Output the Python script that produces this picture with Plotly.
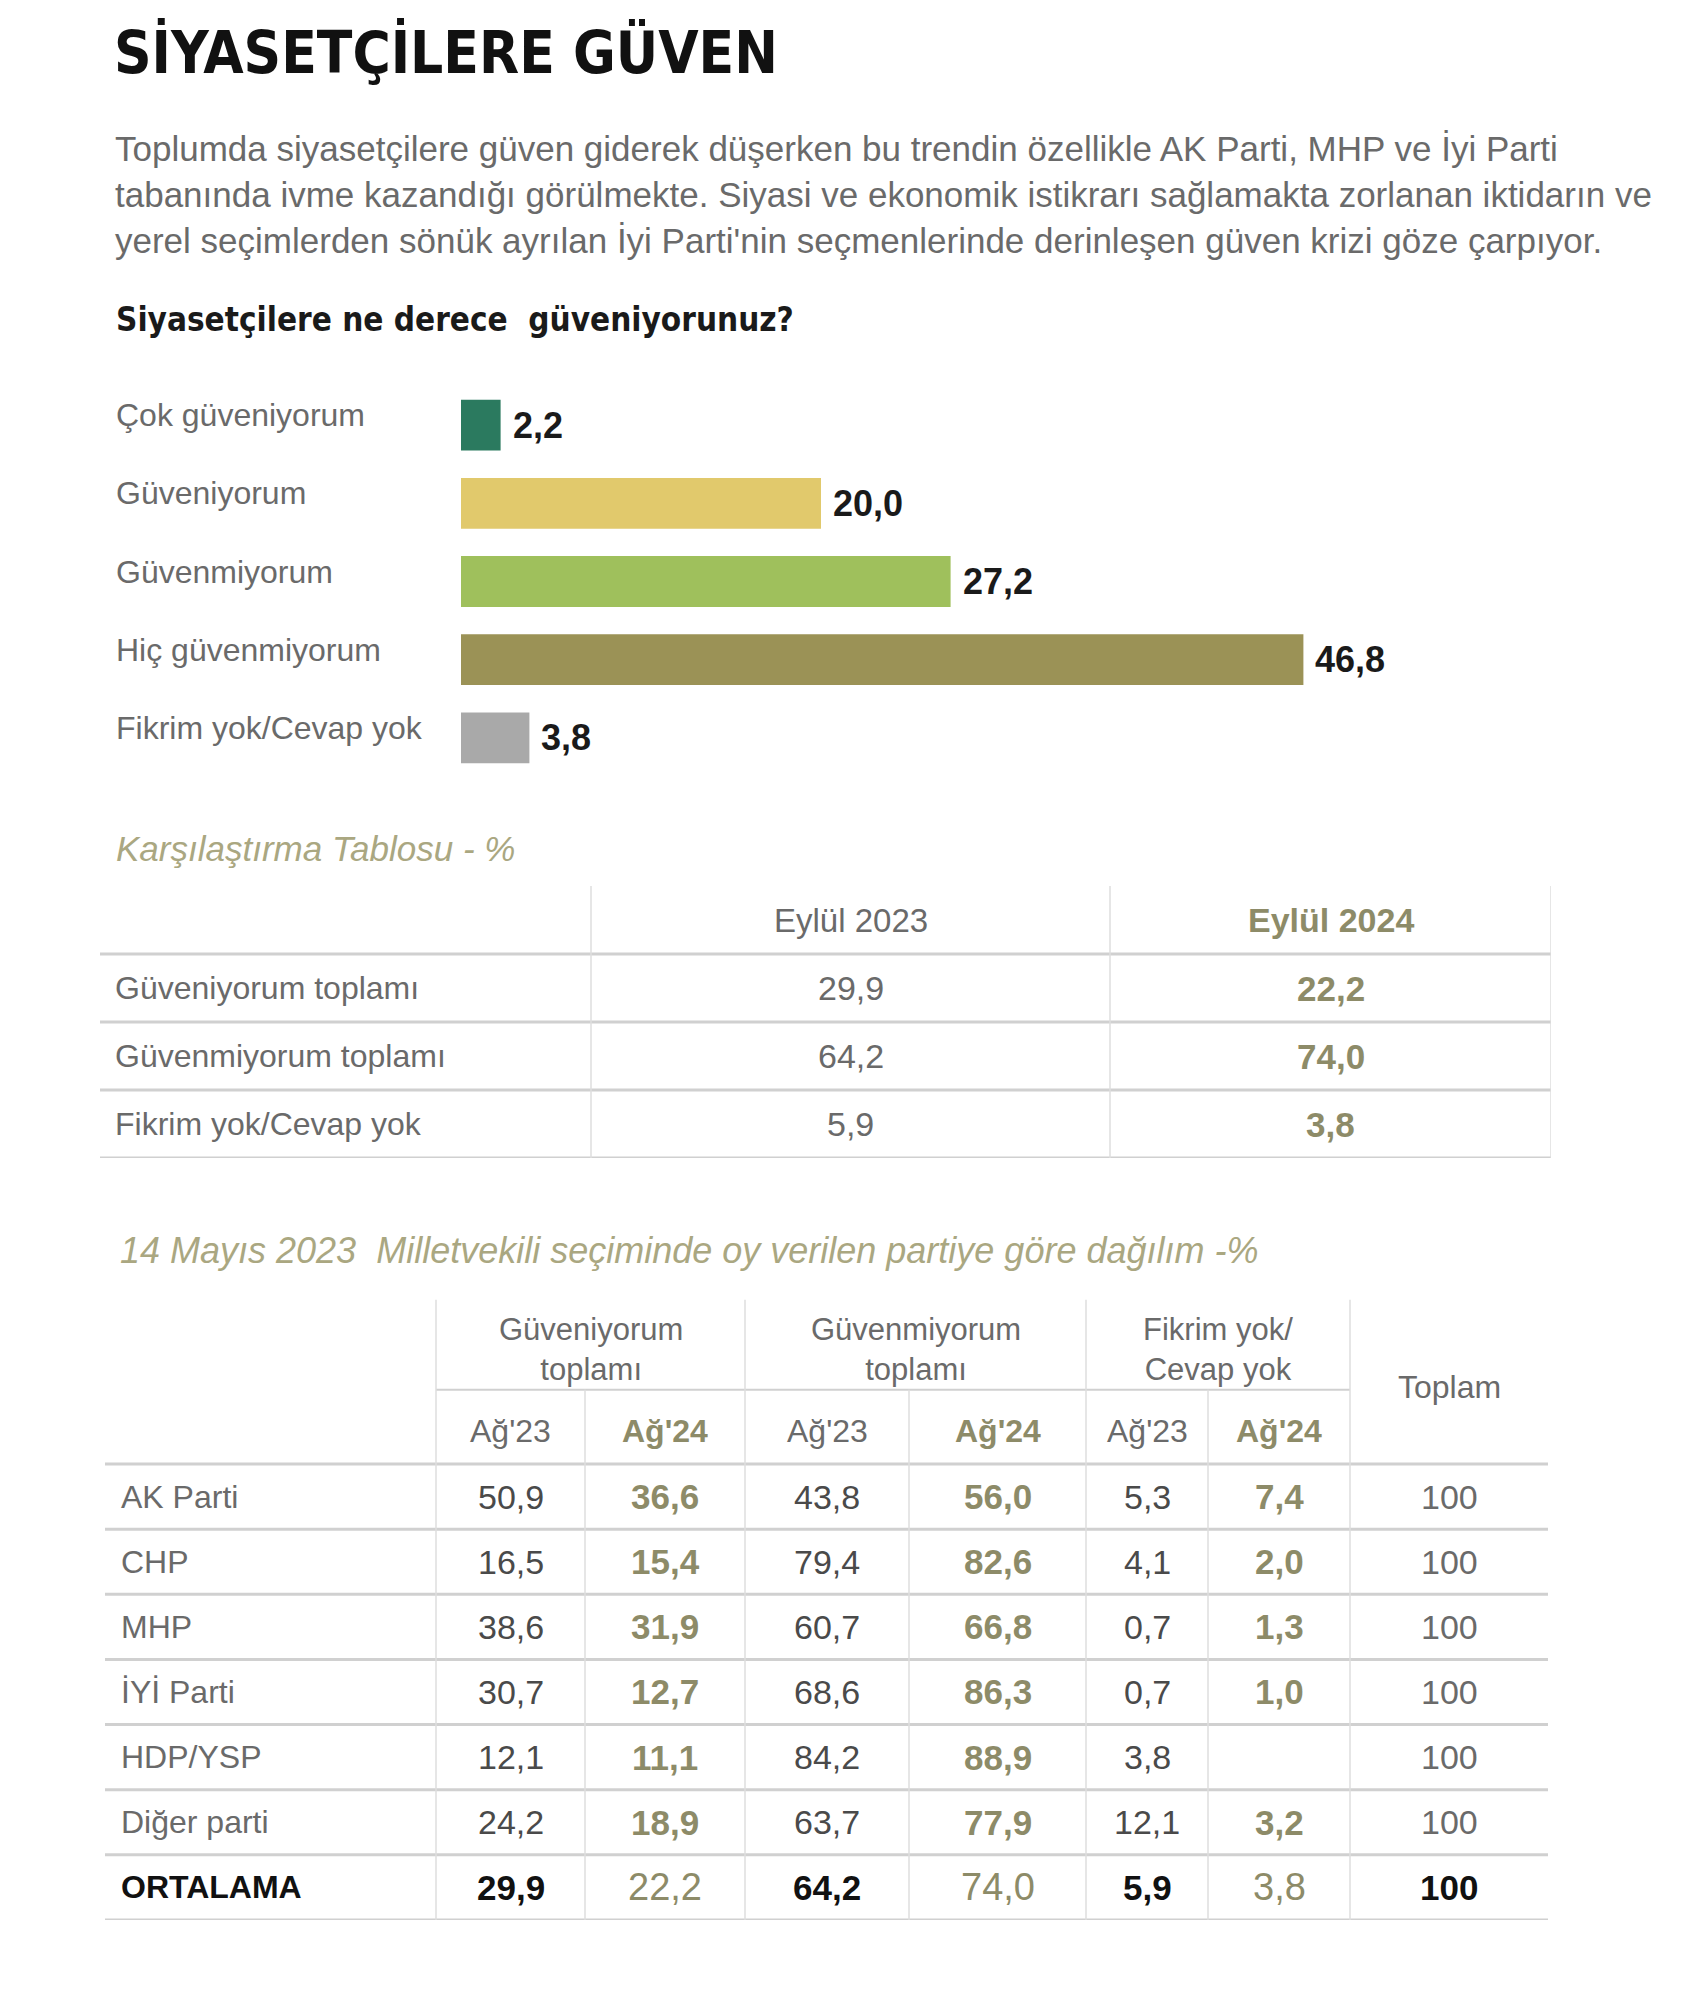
import plotly.graph_objects as go

# ---- data ----
bar_labels = ["Çok güveniyorum", "Güveniyorum", "Güvenmiyorum", "Hiç güvenmiyorum", "Fikrim yok/Cevap yok"]
bar_values = [2.2, 20.0, 27.2, 46.8, 3.8]
bar_colors = ["#2b7a5f", "#e1c96c", "#9fc05c", "#9b9256", "#a9a9a9"]

cmp_header = ["Eylül 2023", "Eylül 2024"]
cmp_rows = ["Güveniyorum toplamı", "Güvenmiyorum toplamı", "Fikrim yok/Cevap yok"]
cmp_2023 = [29.9, 64.2, 5.9]
cmp_2024 = [22.2, 74.0, 3.8]

groups = ["Güveniyorum<br>toplamı", "Güvenmiyorum<br>toplamı", "Fikrim yok/<br>Cevap yok"]
sub_cols = ["Ağ'23", "Ağ'24"]
parties = ["AK Parti", "CHP", "MHP", "İYİ Parti", "HDP/YSP", "Diğer parti", "ORTALAMA"]
guv_23 = [50.9, 16.5, 38.6, 30.7, 12.1, 24.2, 29.9]
guv_24 = [36.6, 15.4, 31.9, 12.7, 11.1, 18.9, 22.2]
gmy_23 = [43.8, 79.4, 60.7, 68.6, 84.2, 63.7, 64.2]
gmy_24 = [56.0, 82.6, 66.8, 86.3, 88.9, 77.9, 74.0]
fy_23 = [5.3, 4.1, 0.7, 0.7, 3.8, 12.1, 5.9]
fy_24 = [7.4, 2.0, 1.3, 1.0, None, 3.2, 3.8]
toplam = [100, 100, 100, 100, 100, 100, 100]

title = "SİYASETÇİLERE GÜVEN"
intro = [
    "Toplumda siyasetçilere güven giderek düşerken bu trendin özellikle AK Parti, MHP ve İyi Parti",
    "tabanında ivme kazandığı görülmekte. Siyasi ve ekonomik istikrarı sağlamakta zorlanan iktidarın ve",
    "yerel seçimlerden sönük ayrılan İyi Parti'nin seçmenlerinde derinleşen güven krizi göze çarpıyor.",
]
question = "Siyasetçilere ne derece  güveniyorunuz?"
cmp_title = "Karşılaştırma Tablosu - %"
party_title = "14 Mayıs 2023  Milletvekili seçiminde oy verilen partiye göre dağılım -%"

# ---- styling ----
W, H = 1700, 2003
OFF = 8  # page body margin
BASE = "Liberation Sans, Arial, sans-serif"
NARROW = "Liberation Sans Narrow, DejaVu Sans Condensed, Liberation Sans, sans-serif"
GREY = "#6a6a6a"
DARK = "#4a4a4a"
OLIVE = "#8d8b68"
HEAD = "#aaa781"
LINE = "#d0d0d0"


def xp(px):
    return (px - OFF) / W


def yp(py):
    return 1 - (py - OFF) / H


def fmt(v):
    if v is None:
        return ""
    if isinstance(v, int):
        return str(v)
    return f"{v:.1f}".replace(".", ",")


fig = go.Figure()
ann = []
shapes = []

# ---- header texts ----
ann.append(dict(text=f"<b>{title}</b>", x=xp(112), y=yp(52), xref="paper", yref="paper",
                xanchor="left", yanchor="middle", showarrow=False,
                font=dict(family=NARROW, size=58, color="#111111")))
for i, line in enumerate(intro):
    ann.append(dict(text=line, x=xp(113), y=yp(148 + 46 * i), xref="paper", yref="paper",
                    xanchor="left", yanchor="middle", showarrow=False,
                    font=dict(family=BASE, size=35, color=GREY)))
ann.append(dict(text=f"<b>{question}</b>", x=xp(114), y=yp(320), xref="paper", yref="paper",
                xanchor="left", yanchor="middle", showarrow=False,
                font=dict(family=NARROW, size=33, color="#1a1a1a")))

# ---- bar chart ----
fig.add_trace(go.Bar(
    x=bar_values, y=bar_labels, orientation="h",
    marker=dict(color=bar_colors, line=dict(width=0)),
    hoverinfo="x+y", showlegend=False, xaxis="x", yaxis="y",
))
for lab, v in zip(bar_labels, bar_values):
    ann.append(dict(text=lab, x=xp(114), y=lab, xref="paper", yref="y",
                    xanchor="left", yanchor="middle", yshift=10, showarrow=False,
                    font=dict(family=BASE, size=32, color=GREY)))
    ann.append(dict(text=f"<b>{fmt(v)}</b>", x=v, y=lab, xref="x", yref="y",
                    xanchor="left", yanchor="middle", xshift=10, showarrow=False,
                    font=dict(family=BASE, size=36, color="#1a1a1a")))

# ---- comparison table ----
ann.append(dict(text=f"<i>{cmp_title}</i>", x=xp(114), y=yp(848), xref="paper", yref="paper",
                xanchor="left", yanchor="middle", showarrow=False,
                font=dict(family=BASE, size=35, color=HEAD)))
c_w = [491, 519, 441]
c_edges = [sum(c_w[:i]) for i in range(len(c_w) + 1)]
c_mid = [(c_edges[i] + c_edges[i + 1]) / 2 for i in range(len(c_w))]
ann.append(dict(text=cmp_header[0], x=c_mid[1], y=0, xref="x2", yref="y2", showarrow=False,
                font=dict(family=BASE, size=33, color=GREY)))
ann.append(dict(text=f"<b>{cmp_header[1]}</b>", x=c_mid[2], y=0, xref="x2", yref="y2", showarrow=False,
                font=dict(family=BASE, size=34, color=OLIVE)))
for r, (lab, a, b) in enumerate(zip(cmp_rows, cmp_2023, cmp_2024), start=1):
    ann.append(dict(text=lab, x=13, y=r, xref="x2", yref="y2", xanchor="left", showarrow=False,
                    font=dict(family=BASE, size=32, color=GREY)))
    ann.append(dict(text=fmt(a), x=c_mid[1], y=r, xref="x2", yref="y2", showarrow=False,
                    font=dict(family=BASE, size=34, color=GREY)))
    ann.append(dict(text=f"<b>{fmt(b)}</b>", x=c_mid[2], y=r, xref="x2", yref="y2", showarrow=False,
                    font=dict(family=BASE, size=35, color=OLIVE)))
for k in range(len(cmp_rows) + 1):
    shapes.append(dict(type="line", xref="x2", yref="y2", x0=0, x1=c_edges[-1], y0=k + 0.5, y1=k + 0.5,
                       line=dict(color=LINE, width=3)))
for e in c_edges[1:]:
    shapes.append(dict(type="line", xref="x2", yref="y2", x0=e, x1=e, y0=-0.5, y1=len(cmp_rows) + 0.5,
                       line=dict(color="#dedede", width=1.5)))

# ---- party table ----
ann.append(dict(text=f"<i>{party_title}</i>", x=xp(118), y=yp(1250), xref="paper", yref="paper",
                xanchor="left", yanchor="middle", showarrow=False,
                font=dict(family=BASE, size=36, color=HEAD)))
p_w = [331, 149, 160, 164, 177, 122, 142, 198]
p_edges = [sum(p_w[:i]) for i in range(len(p_w) + 1)]
p_mid = [(p_edges[i] + p_edges[i + 1]) / 2 for i in range(len(p_w))]
n = len(parties)
group_y, sub_y, split_y, top_y = -2.25, -1.0, -1.64, -3.02

for g, gl in enumerate(groups):
    ann.append(dict(text=gl, x=(p_edges[1 + 2 * g] + p_edges[3 + 2 * g]) / 2, y=group_y,
                    xref="x3", yref="y3", showarrow=False,
                    font=dict(family=BASE, size=31, color=GREY)))
    ann.append(dict(text=sub_cols[0], x=p_mid[1 + 2 * g], y=sub_y, xref="x3", yref="y3", showarrow=False,
                    font=dict(family=BASE, size=32, color=GREY)))
    ann.append(dict(text=f"<b>{sub_cols[1]}</b>", x=p_mid[2 + 2 * g], y=sub_y, xref="x3", yref="y3",
                    showarrow=False, font=dict(family=BASE, size=32, color=OLIVE)))
ann.append(dict(text="Toplam", x=p_mid[7], y=-1.68, xref="x3", yref="y3", showarrow=False,
                font=dict(family=BASE, size=32, color=GREY)))

cols = [guv_23, guv_24, gmy_23, gmy_24, fy_23, fy_24, toplam]
for r, party in enumerate(parties):
    last = r == n - 1
    ann.append(dict(text=f"<b>{party}</b>" if last else party, x=14, y=r, xref="x3", yref="y3",
                    xanchor="left", showarrow=False,
                    font=dict(family=BASE, size=32, color="#111111" if last else GREY)))
    for c, col in enumerate(cols):
        olive = c in (1, 3, 5)
        txt = fmt(col[r])
        if last:
            if olive:
                font = dict(family=BASE, size=38, color=OLIVE)
            else:
                font = dict(family=BASE, size=35, color="#111111")
                txt = f"<b>{txt}</b>"
        elif olive:
            font = dict(family=BASE, size=35, color=OLIVE)
            txt = f"<b>{txt}</b>"
        else:
            font = dict(family=BASE, size=34, color=DARK if c < 6 else GREY)
        ann.append(dict(text=txt, x=p_mid[c + 1], y=r, xref="x3", yref="y3", showarrow=False, font=font))

for k in range(n + 1):
    shapes.append(dict(type="line", xref="x3", yref="y3", x0=0, x1=p_edges[-1], y0=k - 0.5, y1=k - 0.5,
                       line=dict(color=LINE, width=3)))
shapes.append(dict(type="line", xref="x3", yref="y3", x0=p_edges[1], x1=p_edges[7], y0=split_y, y1=split_y,
                   line=dict(color=LINE, width=2)))
for i in (1, 3, 5, 7):
    shapes.append(dict(type="line", xref="x3", yref="y3", x0=p_edges[i], x1=p_edges[i], y0=top_y, y1=n - 0.5,
                       line=dict(color="#dedede", width=1.5)))
for i in (2, 4, 6):
    shapes.append(dict(type="line", xref="x3", yref="y3", x0=p_edges[i], x1=p_edges[i], y0=split_y, y1=n - 0.5,
                       line=dict(color="#dedede", width=1.5)))

hidden = dict(visible=False, fixedrange=True, showgrid=False, zeroline=False)
fig.update_layout(
    width=W, height=H, margin=dict(l=0, r=0, t=0, b=0),
    paper_bgcolor="white", plot_bgcolor="white", showlegend=False,
    bargap=0.35,
    xaxis=dict(hidden, domain=[xp(461), xp(461 + 60 * 18)], range=[0, 60], anchor="y"),
    yaxis=dict(hidden, domain=[yp(777), yp(386)], type="category", categoryorder="array",
               categoryarray=bar_labels, range=[4.5, -0.5], anchor="x"),
    xaxis2=dict(hidden, domain=[xp(100), xp(1551)], range=[0, c_edges[-1]], anchor="y2"),
    yaxis2=dict(hidden, domain=[yp(1158), yp(886)], range=[3.5, -0.5], anchor="x2"),
    xaxis3=dict(hidden, domain=[xp(105), xp(1548)], range=[0, p_edges[-1]], anchor="y3"),
    yaxis3=dict(hidden, domain=[yp(1920), yp(1294.6)], range=[6.5, -3.1], anchor="x3"),
    annotations=ann, shapes=shapes,
)

fig.write_html("out.html")
